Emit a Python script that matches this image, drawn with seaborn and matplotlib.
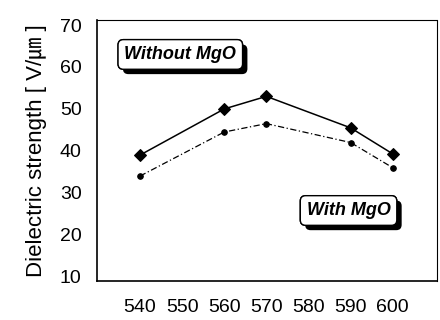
import pandas as pd
import seaborn as sns
import matplotlib.pyplot as plt
import matplotlib.patheffects as pe

# Sintering temperature and dielectric strength
temps = [540, 560, 570, 590, 600]
without_mgo = [39.0, 50.0, 53.0, 45.5, 39.3]
with_mgo = [34.0, 44.5, 46.5, 42.0, 36.0]
x_ticks = [540, 550, 560, 570, 580, 590, 600]
y_ticks = [10, 20, 30, 40, 50, 60, 70]

df = pd.DataFrame({'Temp': temps, 'Without MgO': without_mgo, 'With MgO': with_mgo})

sns.set_style("white")
plt.rcParams['font.family'] = ['Liberation Sans', 'Noto Sans CJK JP', 'DejaVu Sans']
plt.rcParams['text.color'] = 'black'
plt.rcParams['axes.labelcolor'] = 'black'

fig = plt.figure(figsize=(4.4, 3.2), dpi=100)
ax = fig.add_axes([0.2205, 0.122, 0.7725, 0.8155])

# Without MgO: solid line with diamonds
sns.lineplot(x='Temp', y='Without MgO', data=df, ax=ax, color='black', lw=1.1,
             marker='D', markersize=6.5, markeredgecolor='black')
# With MgO: dash-dot line with small dots
sns.lineplot(x='Temp', y='With MgO', data=df, ax=ax, color='black', lw=0.9,
             linestyle=(0, (5, 2, 1, 2)), marker='o', markersize=4, markeredgecolor='black')

ax.set_xlim(529.8, 610.5)
ax.set_ylim(9, 71.2)
ax.set_xticks(x_ticks)
ax.set_yticks(y_ticks)
ax.tick_params(length=0, labelsize=14, colors='black')
ax.tick_params(axis='y', pad=11)
ax.tick_params(axis='x', pad=13)
ax.set_xlabel('')
ax.set_ylabel('Dielectric strength [ V/㎛ ]', fontsize=16, labelpad=9)

for side in ['left', 'bottom']:
    ax.spines[side].set_color('black')
    ax.spines[side].set_linewidth(1.2)
for side in ['top', 'right']:
    ax.spines[side].set_color('black')
    ax.spines[side].set_linewidth(0.8)
    ax.spines[side].set_linestyle((0, (4, 1)))

# Labels in rounded boxes with a drop shadow
box = dict(boxstyle='round,pad=0.35,rounding_size=0.3', fc='white', ec='black', lw=1)
shadow = [pe.withSimplePatchShadow(offset=(3.5, -3.5), shadow_rgbFace='black', alpha=1), pe.Normal()]
for label, xa, ya in [('Without MgO', 0.245, 0.868), ('With MgO', 0.74, 0.27)]:
    t = ax.text(xa, ya, label, transform=ax.transAxes, ha='center', va='center',
                fontsize=13, fontweight='bold', fontstyle='italic', bbox=box)
    t.get_bbox_patch().set_path_effects(shadow)

plt.savefig('out.png', dpi=100)
